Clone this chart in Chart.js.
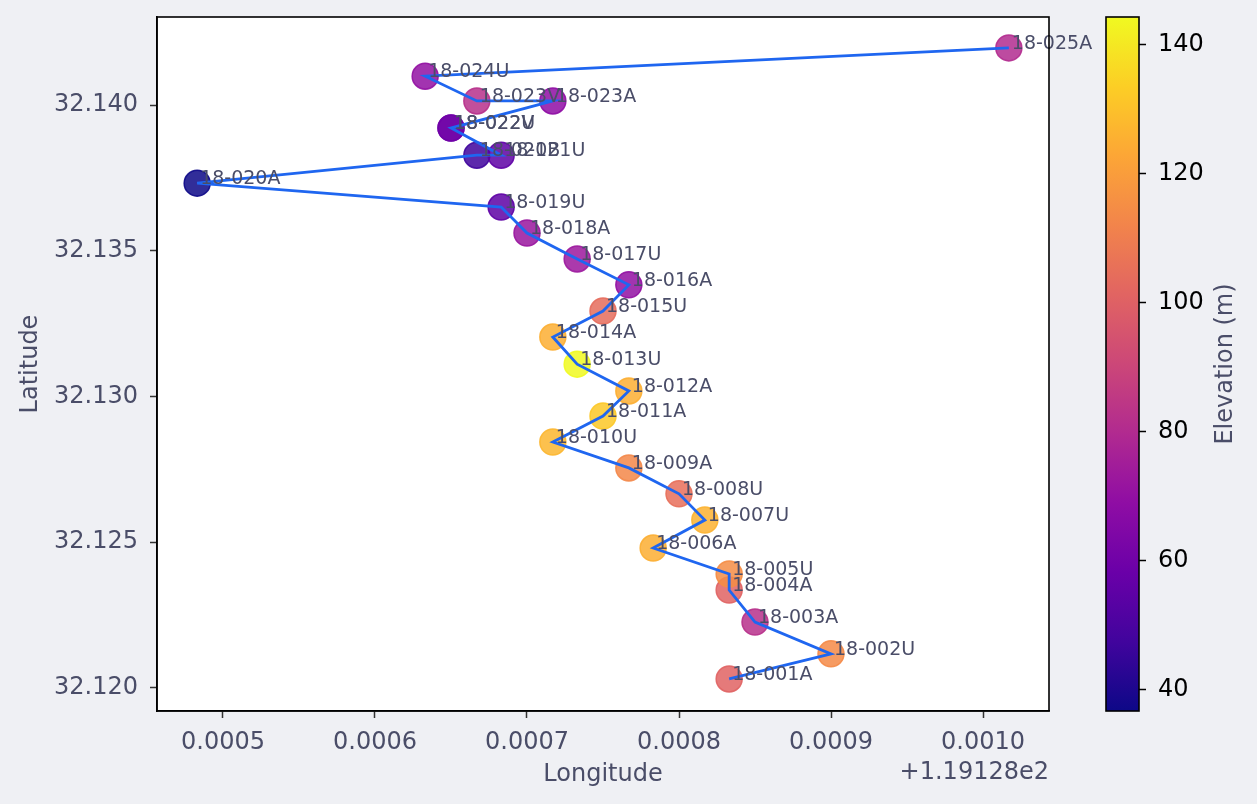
<!DOCTYPE html>
<html>
<head>
<meta charset="utf-8">
<script src="https://cdn.jsdelivr.net/npm/chart.js@4.4.1/dist/chart.umd.min.js"></script>
<style>
  html, body { margin: 0; padding: 0; background: #eff0f4; }
  #wrap { width: 1257px; height: 804px; }
</style>
</head>
<body>
<div id="wrap"><canvas id="myChart" width="1257" height="804"></canvas></div>
<script>
// sample points, in survey order
const sampleIds = ['18-001A', '18-002U', '18-003A', '18-004A', '18-005U', '18-006A', '18-007U',
  '18-008U', '18-009A', '18-010U', '18-011A', '18-012A', '18-013U', '18-014A', '18-015U',
  '18-016A', '18-017U', '18-018A', '18-019U', '18-020A', '18-021B', '18-021U', '18-022U',
  '18-022V', '18-023A', '18-023V', '18-024U', '18-025A'];
const longitudes = [119.128833, 119.128900, 119.128850, 119.128833, 119.128833, 119.128783, 119.128817,
  119.128800, 119.128767, 119.128717, 119.128750, 119.128767, 119.128733, 119.128717, 119.128750,
  119.128767, 119.128733, 119.128700, 119.128683, 119.128483, 119.128667, 119.128683, 119.128650,
  119.128650, 119.128717, 119.128667, 119.128633, 119.129017];
const latitudes = [32.12031, 32.12117, 32.12226, 32.12336, 32.12391, 32.12480, 32.12576,
  32.12666, 32.12755, 32.12844, 32.12933, 32.13019, 32.13111, 32.13204, 32.13293,
  32.13383, 32.13472, 32.13561, 32.13650, 32.13732, 32.13828, 32.13828, 32.13921,
  32.13921, 32.14014, 32.14014, 32.14099, 32.14196];
const elevations = [101, 114, 82, 101, 115, 125, 126,
  105, 113, 127, 132, 125, 144.3, 125, 104,
  70, 73, 72, 55, 36.7, 47, 55, 60,
  60, 69, 82, 70, 80];

const lonOffset = 119.128;   // shown as "+1.19128e2"
const lonTicks = [0.0005, 0.0006, 0.0007, 0.0008, 0.0009, 0.0010];
const latTicks = [32.120, 32.125, 32.130, 32.135, 32.140];
const elevTicks = [40, 60, 80, 100, 120, 140];

const txtColor = '#4a4d68';
const lineBlue = '#1f66f0';

// matplotlib plasma, 11 stops
const plasma = ['#0d0887', '#41049d', '#6a00a8', '#8f0da4', '#b12a90', '#cc4778',
  '#e16462', '#f2844b', '#fca636', '#fcce25', '#f0f921'];

function hexRgb(h) {
  return [parseInt(h.slice(1, 3), 16), parseInt(h.slice(3, 5), 16), parseInt(h.slice(5, 7), 16)];
}
function plasmaColor(t, a) {
  t = Math.max(0, Math.min(1, t));
  const p = t * (plasma.length - 1);
  const i = Math.min(Math.floor(p), plasma.length - 2);
  const f = p - i;
  const c0 = hexRgb(plasma[i]), c1 = hexRgb(plasma[i + 1]);
  const c = c0.map((v, k) => Math.round(v + (c1[k] - v) * f));
  return 'rgba(' + c[0] + ',' + c[1] + ',' + c[2] + ',' + a + ')';
}

const eMin = Math.min(...elevations);
const eMax = Math.max(...elevations);
const pts = longitudes.map((lon, i) => ({ x: lon, y: latitudes[i] }));
const fillCols = elevations.map(e => plasmaColor((e - eMin) / (eMax - eMin), 0.85));
const edgeCols = elevations.map(e => plasmaColor((e - eMin) / (eMax - eMin), 0.9));

// no extra room for half tick labels, layout padding decides the plot box
function noPad(s) {
  s.paddingTop = 0; s.paddingBottom = 0; s.paddingLeft = 0; s.paddingRight = 0;
}

const frameAndBar = {
  id: 'frameAndBar',
  beforeDraw(chart) {
    const { ctx, chartArea: a } = chart;
    ctx.save();
    ctx.fillStyle = '#eff0f4';
    ctx.fillRect(0, 0, chart.width, chart.height);
    ctx.fillStyle = '#ffffff';
    ctx.fillRect(a.left, a.top, a.right - a.left, a.bottom - a.top);
    ctx.restore();
  },
  afterDraw(chart) {
    const { ctx, chartArea: a } = chart;
    const cb = chart.scales.cb;
    ctx.save();
    // labels next to the points
    const meta = chart.getDatasetMeta(0);
    ctx.font = '19px "DejaVu Sans"';
    ctx.fillStyle = txtColor;
    ctx.textBaseline = 'alphabetic';
    ctx.textAlign = 'left';
    meta.data.forEach((el, i) => {
      ctx.fillText(sampleIds[i], el.x + 3, el.y + 1);
    });
    // plot frame
    ctx.strokeStyle = '#000';
    ctx.lineWidth = 1.6;
    ctx.strokeRect(a.left, a.top, a.right - a.left, a.bottom - a.top);
    // colour bar
    const x1 = cb.left, x0 = x1 - 33;
    const top = cb.getPixelForValue(eMax), bot = cb.getPixelForValue(eMin);
    const g = ctx.createLinearGradient(0, bot, 0, top);
    plasma.forEach((c, i) => g.addColorStop(i / (plasma.length - 1), c));
    ctx.fillStyle = g;
    ctx.fillRect(x0, top, x1 - x0, bot - top);
    ctx.strokeRect(x0, top, x1 - x0, bot - top);
    // colour bar title
    ctx.font = '24px "DejaVu Sans"';
    ctx.fillStyle = txtColor;
    ctx.textAlign = 'center';
    ctx.textBaseline = 'middle';
    ctx.translate(1226, (top + bot) / 2);
    ctx.rotate(-Math.PI / 2);
    ctx.fillText('Elevation (m)', 0, 0);
    ctx.restore();
    // axis offset text
    ctx.save();
    ctx.font = '24px "DejaVu Sans"';
    ctx.fillStyle = txtColor;
    ctx.textAlign = 'right';
    ctx.textBaseline = 'middle';
    ctx.fillText('+1.19128e2', a.right, 773);
    ctx.restore();
  }
};

const ctx = document.getElementById('myChart');
const myChart = new Chart(ctx, {
  data: {
    datasets: [
      {
        type: 'scatter',
        data: pts,
        pointRadius: 13,
        pointHoverRadius: 13,
        pointBackgroundColor: fillCols,
        pointBorderColor: edgeCols,
        pointBorderWidth: 1.5,
        order: 2
      },
      {
        type: 'line',
        data: pts,
        borderColor: lineBlue,
        borderWidth: 2.8,
        pointRadius: 0,
        tension: 0,
        fill: false,
        order: 1
      }
    ]
  },
  options: {
    responsive: false,
    animation: false,
    devicePixelRatio: 1,
    layout: { padding: { top: 17, left: 0, right: 0, bottom: 0 } },
    plugins: { legend: { display: false }, tooltip: { enabled: false } },
    scales: {
      x: {
        type: 'linear',
        position: 'bottom',
        min: lonOffset + 0.00045658,
        max: lonOffset + 0.00104342,
        afterBuildTicks: s => { s.ticks = lonTicks.map(v => ({ value: lonOffset + v })); },
        ticks: {
          callback: v => (v - lonOffset).toFixed(4),
          font: { family: 'DejaVu Sans', size: 24 },
          color: txtColor,
          padding: 10,
          maxRotation: 0,
          autoSkip: false
        },
        grid: { drawOnChartArea: false, drawTicks: true, tickLength: 7, color: '#333', tickWidth: 1.5 },
        border: { display: true, color: '#000', width: 1.6 },
        title: {
          display: true, text: 'Longitude', color: txtColor,
          font: { family: 'DejaVu Sans', size: 24 }, padding: { top: 0, bottom: 15 }
        },
        afterFit: s => { s.height = 93; noPad(s); }
      },
      y: {
        type: 'linear',
        position: 'left',
        min: 32.11921,
        max: 32.14302,
        afterBuildTicks: s => { s.ticks = latTicks.map(v => ({ value: v })); },
        ticks: {
          callback: v => v.toFixed(3),
          font: { family: 'DejaVu Sans', size: 24 },
          color: txtColor,
          padding: 12,
          autoSkip: false
        },
        grid: { drawOnChartArea: false, drawTicks: true, tickLength: 7, color: '#333', tickWidth: 1.5 },
        border: { display: true, color: '#000', width: 1.6 },
        title: {
          display: true, text: 'Latitude', color: txtColor,
          font: { family: 'DejaVu Sans', size: 24 }, padding: { top: 16, bottom: 0 }
        },
        afterFit: s => { s.width = 157; noPad(s); }
      },
      gap: {
        type: 'linear',
        axis: 'y',
        position: 'right',
        display: true,
        weight: 0,
        ticks: { display: false },
        grid: { display: false },
        border: { display: false },
        afterFit: s => { s.width = 90; noPad(s); }
      },
      cb: {
        type: 'linear',
        axis: 'y',
        position: 'right',
        display: true,
        weight: 1,
        min: eMin,
        max: eMax,
        afterBuildTicks: s => { s.ticks = elevTicks.map(v => ({ value: v })); },
        ticks: {
          font: { family: 'DejaVu Sans', size: 24 },
          color: '#000',
          padding: 12,
          autoSkip: false
        },
        grid: { drawOnChartArea: false, drawTicks: true, tickLength: 7, color: '#000', tickWidth: 1.5 },
        border: { display: false },
        afterFit: s => { s.width = 118; noPad(s); }
      }
    }
  },
  plugins: [frameAndBar]
});
</script>
</body>
</html>
